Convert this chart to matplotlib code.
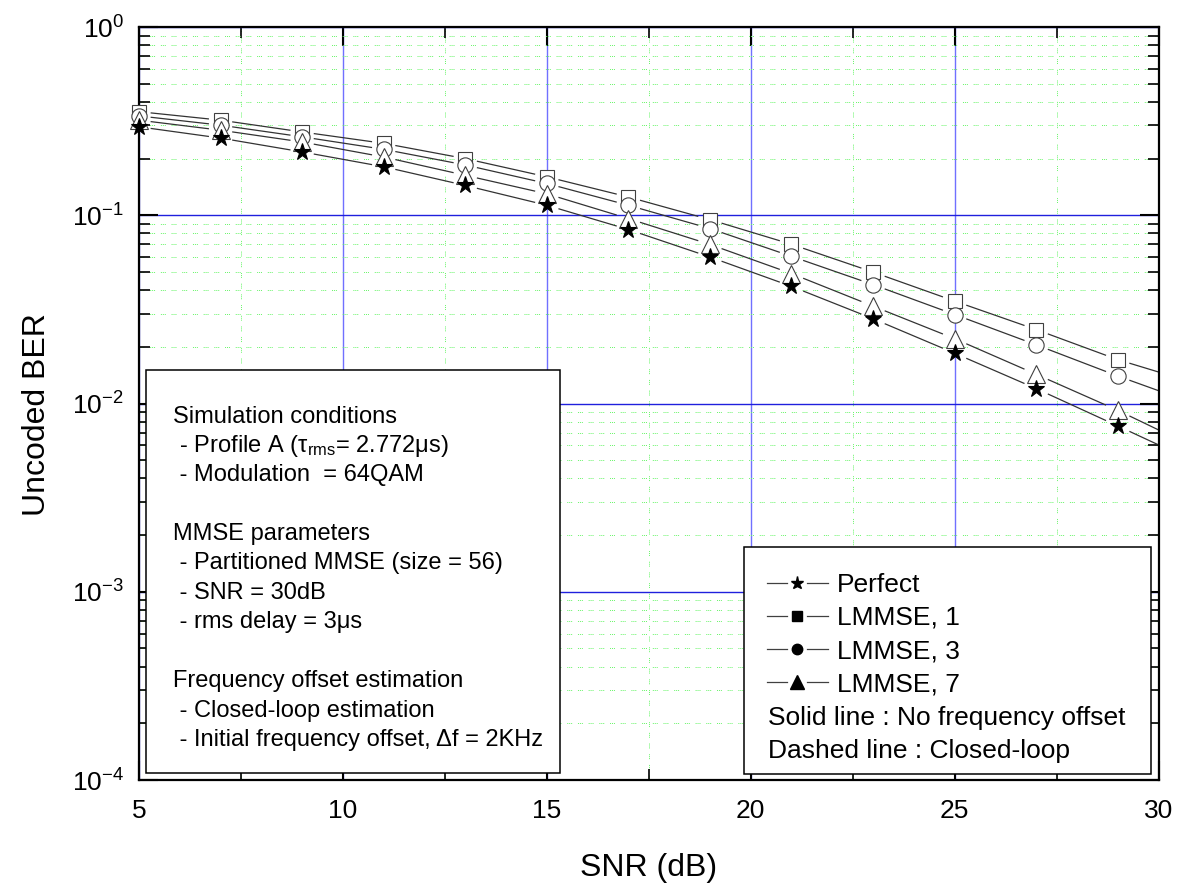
import numpy as np
import matplotlib
matplotlib.use('Agg')
import matplotlib.pyplot as plt
from matplotlib.lines import Line2D
from matplotlib.patches import Rectangle
from matplotlib.ticker import FixedLocator, MultipleLocator, LogLocator, FuncFormatter, NullFormatter

plt.rcParams['font.family'] = ['Liberation Sans', 'DejaVu Sans']
plt.rcParams['mathtext.fontset'] = 'custom'
plt.rcParams['mathtext.rm'] = 'Liberation Sans'
plt.rcParams['mathtext.it'] = 'Liberation Sans:italic'
plt.rcParams['mathtext.default'] = 'regular'

# SNR points (markers on odd dB values, last value is where the curves leave the frame)
snr = [5, 7, 9, 11, 13, 15, 17, 19, 21, 23, 25, 27, 29, 30]
n_marked = 13

ber_perfect = [0.295, 0.257, 0.217, 0.181, 0.144, 0.113, 0.084, 0.060, 0.0419, 0.0282, 0.0185, 0.0120, 0.0076, 0.00603]
ber_lmmse1 = [0.355, 0.320, 0.277, 0.241, 0.200, 0.160, 0.125, 0.0948, 0.0701, 0.0499, 0.0350, 0.0247, 0.0171, 0.0147]
ber_lmmse3 = [0.337, 0.301, 0.261, 0.224, 0.185, 0.1475, 0.113, 0.085, 0.0605, 0.0428, 0.0297, 0.0205, 0.0140, 0.0117]
ber_lmmse7 = [0.320, 0.283, 0.245, 0.204, 0.163, 0.130, 0.096, 0.070, 0.0490, 0.0329, 0.0221, 0.0143, 0.0092, 0.00724]

labels = ['Perfect', 'LMMSE, 1', 'LMMSE, 3', 'LMMSE, 7']

box_lines = [
    'Simulation conditions',
    r' - Profile A ($\tau_{rms}$= 2.772μs)',
    ' - Modulation  = 64QAM',
    '',
    'MMSE parameters',
    ' - Partitioned MMSE (size = 56)',
    ' - SNR = 30dB',
    ' - rms delay = 3μs',
    '',
    'Frequency offset estimation',
    ' - Closed-loop estimation',
    ' - Initial frequency offset, \u0394f = 2KHz',
]
note_lines = ['Solid line : No frequency offset', 'Dashed line : Closed-loop']

W, H = 1178, 889
fig = plt.figure(figsize=(W / 100, H / 100), dpi=100)
ax = fig.add_axes([139 / W, 1 - 780 / H, (1158.5 - 139) / W, (780 - 27) / H])


def fpt(px, py):
    # pixel (from top-left) -> figure fraction
    return px / W, 1 - py / H


def gapped(x, y, nm, gap=0.3):
    # line pieces between points, leaving a gap round each marker (Origin style)
    ly = np.log10(y)
    xs, ys = [], []
    for i in range(len(x) - 1):
        x0, x1 = x[i], x[i + 1]
        a = x0 + (gap if i < nm else 0)
        b = x1 - (gap if i + 1 < nm else 0)
        ya = ly[i] + (ly[i + 1] - ly[i]) * (a - x0) / (x1 - x0)
        yb = ly[i] + (ly[i + 1] - ly[i]) * (b - x0) / (x1 - x0)
        xs += [a, b, np.nan]
        ys += [10 ** ya, 10 ** yb, np.nan]
    return xs, ys


series = [
    (ber_lmmse1, 's', 10, 'white'),
    (ber_lmmse3, 'o', 11, 'white'),
    (ber_lmmse7, '^', 13, 'white'),
    (ber_perfect, '*', 12.5, 'black'),
]
for k, (vals, mk, ms, fc) in enumerate(series):
    lx, ly = gapped(snr, vals, n_marked)
    ax.plot(lx, ly, color='#333333', lw=0.9, zorder=2)
    ax.plot(snr[:n_marked], vals[:n_marked], ls='none', marker=mk, ms=ms,
            mfc=fc, mec='#404040' if fc == 'white' else 'black', mew=0.8,
            zorder=3 + k * 0.1, clip_on=False)

ax.set_yscale('log')
ax.set_xlim(5, 30)
ax.set_ylim(1e-4, 1)

ax.xaxis.set_major_locator(MultipleLocator(5))
ax.xaxis.set_minor_locator(MultipleLocator(2.5))
ax.yaxis.set_major_locator(FixedLocator([1e-4, 1e-3, 1e-2, 1e-1, 1]))
ax.yaxis.set_minor_locator(LogLocator(base=10, subs=np.arange(2, 10)))
ax.yaxis.set_major_formatter(FuncFormatter(lambda v, p: r'$10^{%d}$' % round(np.log10(v))))
ax.yaxis.set_minor_formatter(NullFormatter())

ax.tick_params(which='both', direction='in', top=True, right=True, labelsize=19)
ax.tick_params(which='major', length=14, width=1.5)
ax.tick_params(which='minor', length=8, width=1.2)
ax.tick_params(axis='x', pad=14)
ax.tick_params(axis='y', pad=11)
for s in ax.spines.values():
    s.set_linewidth(1.6)

ax.grid(which='minor', color='#66f566', lw=0.7, linestyle=(0, (1, 1, 1, 1, 1, 6)), zorder=0)
ax.grid(which='major', axis='x', color='#7070ff', lw=1.0, zorder=0.5)
ax.grid(which='major', axis='y', color='#2020dd', lw=1.0, zorder=0.5)
ax.set_axisbelow(True)

ax.set_xlabel('SNR (dB)', fontsize=23)
ax.set_ylabel('Uncoded BER', fontsize=23)
ax.xaxis.set_label_coords(0.5, -0.097)
ax.yaxis.set_label_coords(-0.085, 0.485)

# conditions box
x0, y0 = fpt(145.5, 773)
x1, y1 = fpt(560, 370)
fig.add_artist(Rectangle((x0, y0), x1 - x0, y1 - y0, transform=fig.transFigure,
                         facecolor='white', edgecolor='black', lw=1.1, zorder=1))
for i, t in enumerate(box_lines):
    if t:
        fig.text(*fpt(173, 422.5 + 29.4 * i), t, fontsize=17, va='baseline', ha='left', zorder=4)

# legend box
x0, y0 = fpt(744, 774)
x1, y1 = fpt(1150.5, 547)
fig.add_artist(Rectangle((x0, y0), x1 - x0, y1 - y0, transform=fig.transFigure,
                         facecolor='white', edgecolor='black', lw=1.1, zorder=1))
leg_marks = [('*', 9.5), ('s', 7), ('o', 7.5), ('^', 9.5)]
for i, (lab, (mk, ms)) in enumerate(zip(labels, leg_marks)):
    base = 591.7 + 33.2 * i
    yc = base - 9
    for a, b in [(767, 787), (807, 828)]:
        p, q = fpt(a, yc), fpt(b, yc)
        fig.add_artist(Line2D([p[0], q[0]], [p[1], q[1]], transform=fig.transFigure,
                              color='#404040', lw=0.9, zorder=4))
    m = fpt(797, yc)
    fig.add_artist(Line2D([m[0]], [m[1]], transform=fig.transFigure, ls='none',
                          marker=mk, ms=ms, mfc='black', mec='black', zorder=4))
    fig.text(*fpt(837, base), lab, fontsize=19, va='baseline', ha='left', zorder=4)
for j, t in enumerate(note_lines):
    fig.text(*fpt(768, 591.7 + 33.2 * (4 + j)), t, fontsize=19, va='baseline', ha='left', zorder=4)

fig.savefig('out.png', dpi=100)
